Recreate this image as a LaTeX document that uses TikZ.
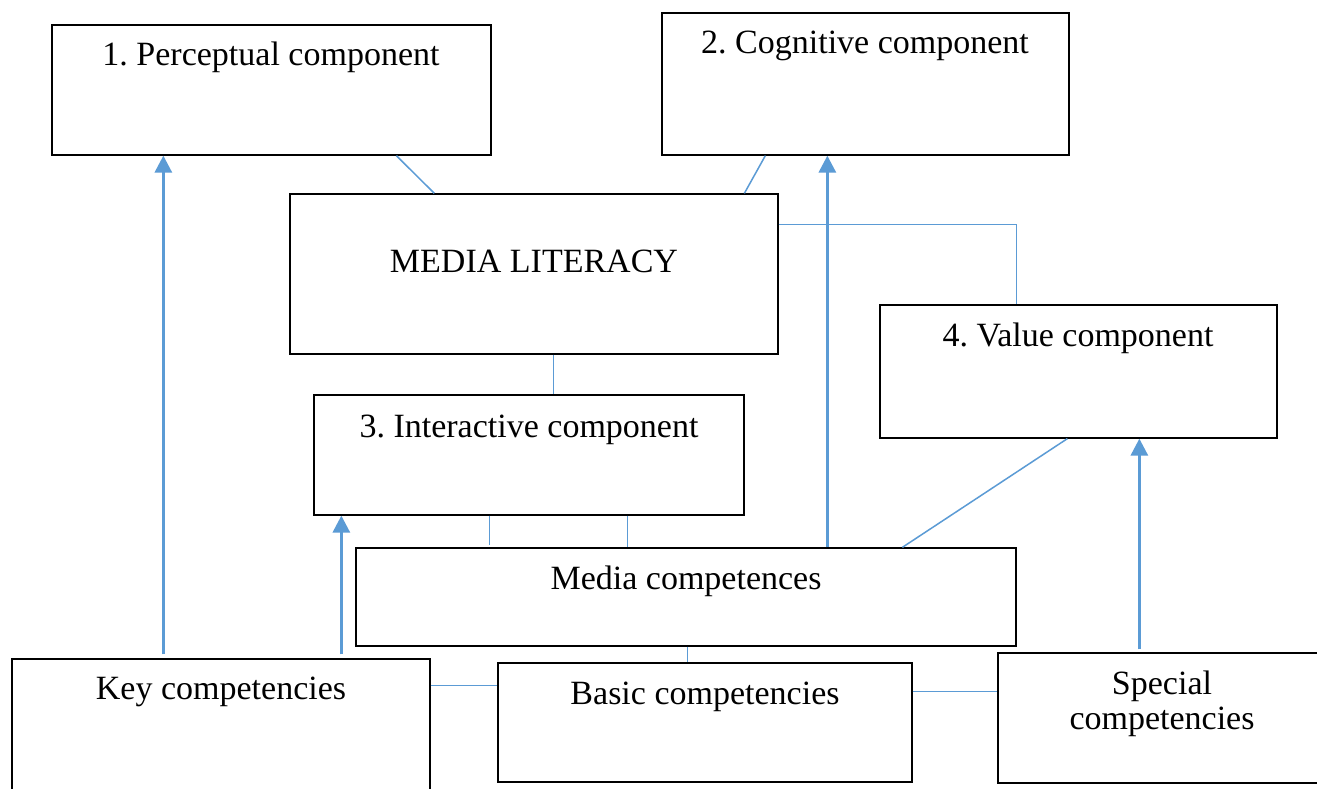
\documentclass[tikz,border=0pt]{standalone}
\usepackage{fontspec}
\setmainfont{Liberation Serif}
\usetikzlibrary{arrows.meta}
\definecolor{linkblue}{HTML}{5B9BD5}
\frenchspacing
\tikzset{
  box/.style={draw=black, line width=1.3pt, fill=white, inner sep=0pt},
  lbl/.style={anchor=base, inner sep=0pt, font=\fontsize{34}{35}\selectfont, align=center},
  thinlink/.style={draw=linkblue, line width=1.5pt},
  thicklink/.style={draw=linkblue, line width=3pt, -{Triangle[width=17pt,length=17pt]}}
}
\begin{document}
\begin{tikzpicture}[x=1pt,y=-1pt]
\clip (0,0) rectangle (1317,789);
\fill[white] (0,0) rectangle (1317,789);
% boxes
\node[box, minimum width=439pt, minimum height=130pt] (p1) at (271.5,90) {};
\node[box, minimum width=407pt, minimum height=142pt] (c2) at (865.5,84) {};
\node[box, minimum width=488pt, minimum height=160pt] (ml) at (534,274) {};
\node[box, minimum width=397pt, minimum height=133pt] (v4) at (1078.5,371.5) {};
\node[box, minimum width=430pt, minimum height=120pt] (i3) at (529,455) {};
\node[box, minimum width=660pt, minimum height=98pt] (mc) at (686,597) {};
\node[box, minimum width=418pt, minimum height=151pt] (key) at (221,734.5) {};
\node[box, minimum width=414pt, minimum height=119pt] (basic) at (705,722.5) {};
\node[box, minimum width=342pt, minimum height=130pt] (special) at (1169,718) {};
% labels
\node[lbl] (p1t) at (271,66) {1. Perceptual component};
\node[lbl] (c2t) at (865,54) {2. Cognitive component};
\node[lbl] (mlt) at (534,272) {MEDIA LITERACY};
\node[lbl] (v4t) at (1078,346) {4. Value component};
\node[lbl] (i3t) at (529,437) {3. Interactive component};
\node[lbl] (mct) at (686,589) {Media competences};
\node[lbl] (keyt) at (221,699) {Key competencies};
\node[lbl] (basict) at (705,704) {Basic competencies};
\node[lbl] (specialt) at (1162,729) {Special\\competencies};
% thin connectors
\draw[thinlink] ([xshift=345pt]p1.south west) -- ([xshift=145pt]ml.north west);
\draw[thinlink] ([xshift=104pt]c2.south west) -- ([xshift=455pt]ml.north west);
\draw[thinlink] ([yshift=-31pt]ml.north east) -| ([xshift=137pt]v4.north west);
\draw[thinlink] ([xshift=264pt]ml.south west) -- ([xshift=240pt]i3.north west);
\coordinate (i3free) at ([xshift=176pt,yshift=-29pt]i3.south west);
\draw[thinlink] ([xshift=176pt]i3.south west) -- (i3free);
\draw[thinlink] ([xshift=314pt]i3.south west) -- ([xshift=272pt]mc.north west);
\draw[thinlink] ([xshift=188pt]v4.south west) -- ([xshift=547pt]mc.north west);
\draw[thinlink] ([xshift=332pt]mc.south west) -- ([xshift=190pt]basic.north west);
\draw[thinlink] ([yshift=-27pt]key.north east) -- ([yshift=-23pt]basic.north west);
\draw[thinlink] ([yshift=-29pt]basic.north east) -- ([yshift=-39pt]special.north west);
% thick arrows
\draw[thicklink] ([xshift=152pt,yshift=4pt]key.north west) -- ([xshift=112pt]p1.south west);
\draw[thicklink] ([xshift=330pt,yshift=4pt]key.north west) -- ([xshift=28pt]i3.south west);
\draw[thicklink] ([xshift=472pt]mc.north west) -- ([xshift=166pt]c2.south west);
\draw[thicklink] ([xshift=142pt,yshift=3pt]special.north west) -- ([xshift=260pt]v4.south west);
\end{tikzpicture}
\end{document}
